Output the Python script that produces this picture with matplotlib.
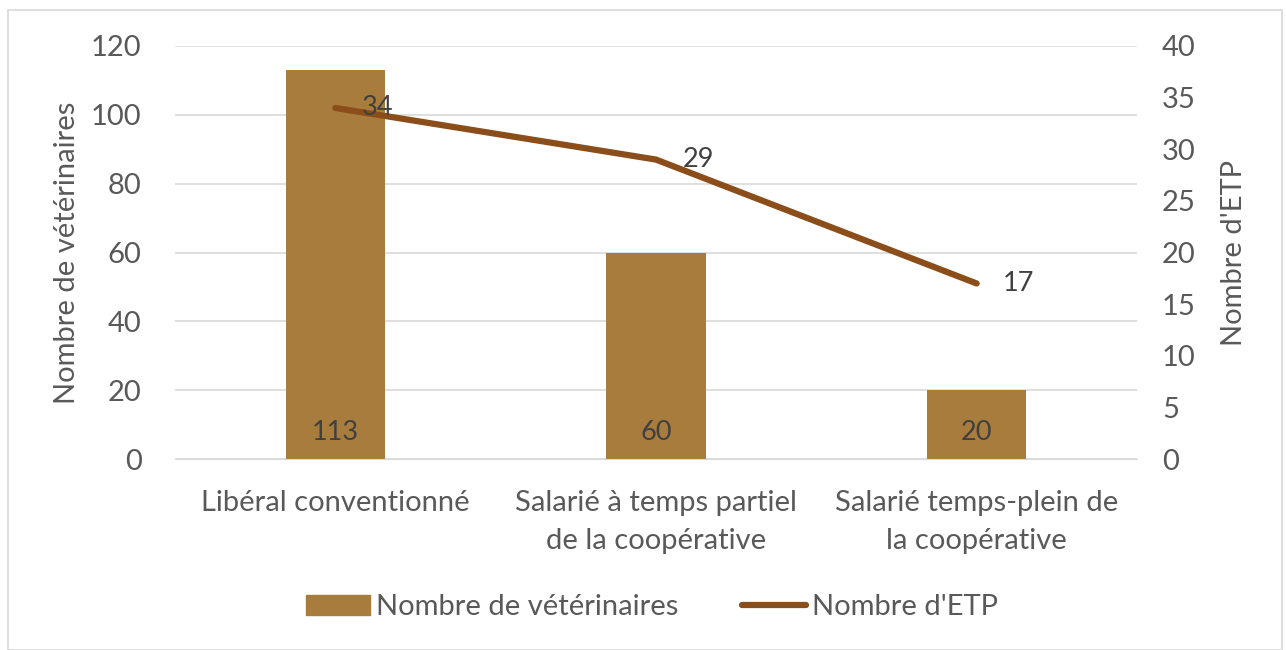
import matplotlib
matplotlib.use("Agg")
import matplotlib.pyplot as plt
from matplotlib.patches import Rectangle
from matplotlib.lines import Line2D
import numpy as np

categories = ["Libéral conventionné", "Salarié à temps partiel\nde la coopérative", "Salarié temps-plein de\nla coopérative"]
veterinaires = [113, 60, 20]
etp = [34, 29, 17]

plt.rcParams['font.family'] = ['Lato', 'DejaVu Sans']
gray = '#595959'
bar_color = '#A87C3D'
line_color = '#8B4E1A'
FS = 21

fig = plt.figure(figsize=(12.86, 6.5), dpi=100)
ax = fig.add_axes([175/1286, 1-459/650, (1137-175)/1286, (459-46)/650])
x = np.arange(len(categories))
bars = ax.bar(x, veterinaires, width=0.31, color=bar_color, zorder=2)
ax.set_xlim(-0.5, 2.5)
ax.set_ylim(0, 120)
ax.set_yticks(range(0, 121, 20))
ax.yaxis.grid(True, color='#d9d9d9', linewidth=1.2, zorder=0)
for s in ax.spines.values():
    s.set_visible(False)
ax.spines['bottom'].set_visible(True)
ax.spines['bottom'].set_color('#d9d9d9')
ax.tick_params(axis='y', length=0, labelsize=FS, labelcolor=gray, pad=24)
ax.tick_params(axis='x', length=0, labelsize=FS, labelcolor=gray, pad=22)
ax.set_xticks(x)
ax.set_xticklabels(categories, fontsize=FS, color=gray, linespacing=1.6)
ax.set_ylabel("Nombre de vétérinaires", fontsize=FS, color=gray, labelpad=8)
for xi, v in zip(x, veterinaires):
    ax.text(xi, 7.8, str(v), ha='center', va='center', fontsize=19.5, color='#404040', zorder=5)

ax2 = ax.twinx()
ax2.set_ylim(0, 40)
ax2.set_yticks(range(0, 41, 5))
for s in ax2.spines.values():
    s.set_visible(False)
ax2.tick_params(axis='y', length=0, labelsize=FS, labelcolor=gray, pad=18)
ax2.plot(x, etp, color=line_color, linewidth=4.5, solid_capstyle='round', zorder=3)
ax2.set_ylabel("Nombre d'ETP", fontsize=FS, color=gray, labelpad=18)
for xi, v in zip(x, etp):
    ax2.annotate(str(v), (xi, v), xytext=(19, 0), textcoords='offset points',
                 ha='left', va='center', fontsize=19.5, color='#404040')

handles = [Rectangle((0, 0), 1, 1, color=bar_color),
           Line2D([0], [0], color=line_color, linewidth=4.5, solid_capstyle='round')]
fig.legend(handles, ["Nombre de vétérinaires", "Nombre d'ETP"], loc='center',
           bbox_to_anchor=(652/1286, 1-607/650), ncol=2, frameon=False, fontsize=FS,
           labelcolor=gray, handlelength=2.2, handletextpad=0.2, columnspacing=2.2)

fig.patches.append(Rectangle((8/1286, 0), (1282-8)/1286, 1-10/650, transform=fig.transFigure,
                             fill=False, edgecolor='#d9d9d9', linewidth=1.2))
fig.savefig("out.png", dpi=100)
